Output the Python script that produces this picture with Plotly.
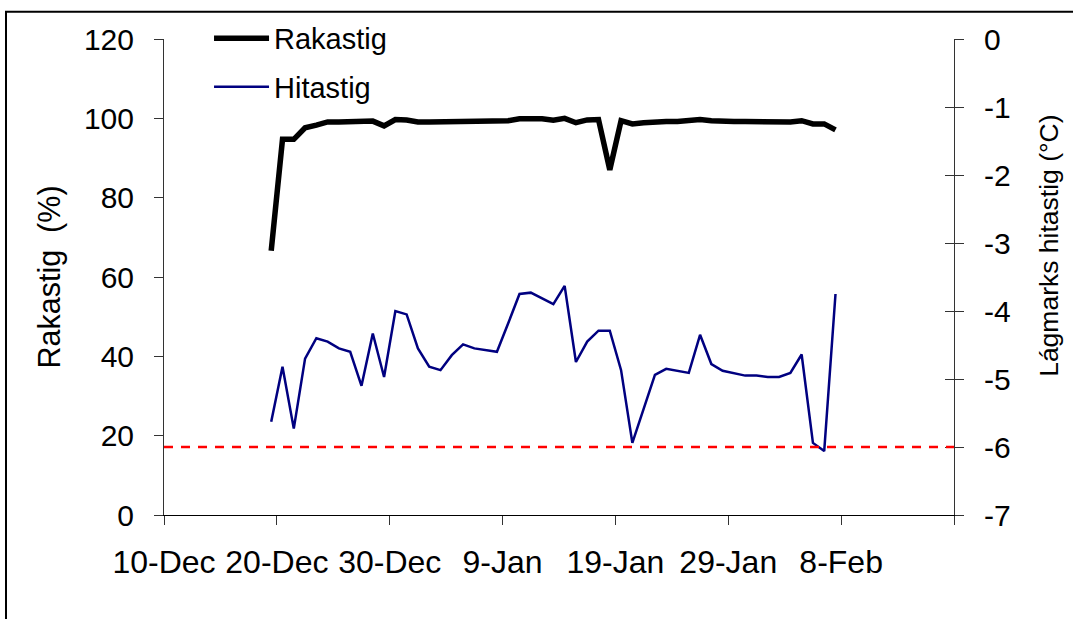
import pandas as pd
import plotly.graph_objects as go

# daily readings, 19 Dec - 7 Feb
days = pd.date_range("2007-12-19", "2008-02-07", freq="D")

rakastig = [66.6, 94.7, 94.7, 97.6, 98.3, 99.1, 99.1, 99.1, 99.1, 99.3,
            98.1, 99.7, 99.6, 99.1, 99.1, 99.1, 99.1, 99.1, 99.1, 99.1,
            99.1, 99.4, 99.9, 99.9, 99.9, 99.5, 100.0, 98.9, 99.6, 99.7,
            87.0, 99.4, 98.6, 98.9, 99.2, 99.2, 99.2, 99.4, 99.7, 99.4,
            99.2, 99.2, 99.2, 99.2, 99.2, 98.9, 99.1, 99.4, 98.6, 98.6, 97.1]

hitastig = [-5.63, -4.82, -5.73, -4.70, -4.40, -4.45, -4.55, -4.60, -5.10, -4.33,
            -4.97, -4.00, -4.05, -4.55, -4.82, -4.87, -4.65, -4.49, -4.55, -4.57,
            -4.60, -4.18, -3.75, -3.73, -3.81, -3.90, -3.63, -4.75, -4.45, -4.29,
            -4.29, -4.87, -5.94, -5.43, -4.94, -4.85, -4.88, -4.91, -4.35, -4.78,
            -4.88, -4.91, -4.95, -4.95, -4.97, -4.97, -4.91, -4.64, -5.94, -6.06, -3.75]

threshold = -6

tick_dates = pd.date_range("2007-12-10", "2008-02-18", freq="10D")
tick_labels = ["10-Dec", "20-Dec", "30-Dec", "9-Jan", "19-Jan", "29-Jan", "8-Feb", ""]

left_ticks = [0, 20, 40, 60, 80, 100, 120]
right_ticks = [0, -1, -2, -3, -4, -5, -6, -7]
right_labels = ["0", "-1", "-2", "-3", "-4", "-5", "-6", "-7"]

# Excel-style date axis: points sit in the middle of each day
x = days + pd.Timedelta(hours=12)

FONT = "Liberation Sans, Arial, sans-serif"
SIZE = 29

fig = go.Figure()

fig.add_trace(go.Scatter(
    x=x, y=rakastig, name="Rakastig", mode="lines",
    line=dict(color="black", width=5.5), legendgroup="a",
))
fig.add_trace(go.Scatter(
    x=x, y=hitastig, name="Hitastig", mode="lines", yaxis="y2",
    line=dict(color="#000080", width=2.5), legendgroup="b",
))

fig.add_shape(type="line", xref="paper", x0=0, x1=1, yref="y2",
              y0=threshold, y1=threshold,
              line=dict(color="#ff0000", width=2.5, dash="9px,8px"))

# outer chart frame
fig.add_shape(type="rect", xref="paper", yref="paper",
              x0=-0.2, x1=1.2, y0=-0.3, y1=1.057,
              line=dict(color="black", width=2), layer="below")

fig.update_layout(
    width=1073, height=619,
    margin=dict(l=164, r=119, t=39, b=104),
    paper_bgcolor="white", plot_bgcolor="white",
    font=dict(family=FONT, size=SIZE, color="black"),
    showlegend=True,
    legend=dict(x=0.057, y=1.055, xanchor="left", yanchor="top",
                bgcolor="rgba(0,0,0,0)", font=dict(size=SIZE),
                tracegroupgap=8, traceorder="grouped", itemwidth=55),
    xaxis=dict(
        range=[tick_dates[0], tick_dates[-1]],
        tickvals=tick_dates, ticktext=tick_labels,
        ticks="outside", ticklen=9, tickcolor="#333",
        showline=True, linecolor="black", linewidth=1,
        showgrid=False, zeroline=False, ticklabelstandoff=10,
        tickfont=dict(size=32),
    ),
    yaxis=dict(
        range=[0, 120], tickvals=left_ticks,
        ticks="outside", ticklen=9, tickcolor="#333",
        showline=True, linecolor="#333", linewidth=1,
        showgrid=False, zeroline=False, ticklabelstandoff=14,
        tickfont=dict(size=30),
        title=dict(text="Rakastig  (%)", font=dict(size=30.5), standoff=14),
    ),
    yaxis2=dict(
        range=[-7, 0], tickvals=right_ticks, ticktext=right_labels,
        overlaying="y", side="right", anchor="x",
        ticks="outside", ticklen=9, tickcolor="#333",
        showline=True, linecolor="#333", linewidth=1,
        showgrid=False, zeroline=False, ticklabelstandoff=14,
        tickfont=dict(size=30),
    ),
    yaxis3=dict(
        range=[-7, 0], tickvals=right_ticks,
        overlaying="y", side="right", anchor="x",
        ticks="inside", ticklen=9, tickcolor="#333",
        showticklabels=False, showline=False, showgrid=False, zeroline=False,
    ),
)

# right axis title sits a bit above centre in the original
fig.add_annotation(text="Lágmarks hitastig (°C)", textangle=-90, font=dict(size=26.5),
                   xref="paper", yref="paper", x=1.12, y=0.565,
                   xanchor="center", yanchor="middle", showarrow=False)

# dummy trace so yaxis3 (inner half of the cross ticks) is drawn
fig.add_trace(go.Scatter(x=[None], y=[None], yaxis="y3", showlegend=False, hoverinfo="skip"))

fig.write_html("out.html", config={"displayModeBar": False},
               post_script="document.body.style.margin='0px';")
